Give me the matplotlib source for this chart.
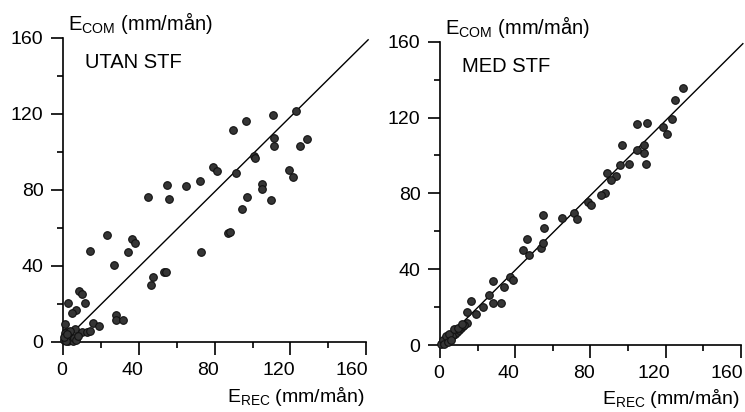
import matplotlib
matplotlib.use("Agg")
import matplotlib.pyplot as plt
from matplotlib.ticker import MultipleLocator
from matplotlib.transforms import ScaledTranslation

plt.rcParams['font.family'] = ['Liberation Sans', 'DejaVu Sans']
plt.rcParams['mathtext.fontset'] = 'custom'
plt.rcParams['mathtext.rm'] = 'Liberation Sans'
plt.rcParams['mathtext.it'] = 'Liberation Sans'

# UTAN STF (left panel): E_REC, E_COM in mm/mån
utan_rec = [123, 110.8, 96.7, 89.5, 111.2, 111.2, 129, 125, 100.6, 101.1,
            91.3, 78.9, 81.2, 119.1, 121.2, 55, 65, 72.2, 104.8, 104.8,
            56, 96.9, 110, 94.3, 44.8, 87, 88, 23.3, 36.3, 38.1,
            14.3, 34.2, 72.6, 27, 47.4, 46.3, 53.4, 54.5, 2.6, 8.5,
            10, 11.5, 7, 4.6, 27.8, 28.2, 31.9, 1.2, 16, 19.2,
            6.3, 9.9, 12.9, 14.3, 0.5, 1, 1.5, 2, 0.8, 2.5,
            3, 4, 5, 6, 7, 8, 1.5, 3.5, 0.3, 2.2]
utan_com = [121.7, 119.6, 116.4, 111.5, 107.3, 102.9, 106.7, 103.2, 97.9, 96.7,
            89.0, 92.1, 90.2, 90.5, 87.0, 82.6, 81.9, 84.9, 83.3, 80.4,
            75.3, 76.1, 74.9, 70.2, 76.5, 57.1, 57.7, 56.1, 54.2, 52.2,
            48, 47.6, 47.5, 40.4, 34.3, 29.9, 36.7, 36.7, 20.7, 26.7,
            25.1, 20.7, 16.7, 15, 14, 11.4, 11.8, 9.7, 10, 8.6,
            7, 5.3, 5.3, 5.8, 1, 3, 5, 2, 4.5, 0.5,
            3.5, 1.5, 0.5, 2, 1, 3, 0.3, 6, 2.5, 4]

# MED STF (right panel)
med_rec = [129, 124.9, 123.1, 118.8, 120.8, 110, 104.7, 108.4, 108.4, 109.6,
           104.7, 97, 100.4, 95.8, 88.7, 93.3, 90.8, 87.6, 85.7, 78.9,
           80.2, 71.3, 72.7, 64.6, 54.5, 55.2, 46.1, 44.3, 47.2, 53.6,
           54.6, 37.4, 38.7, 34.1, 28, 26.3, 28.2, 32.3, 22.9, 16.3,
           14.2, 19.2, 14.2, 1, 2, 3, 4, 5, 6, 7,
           8, 9, 10, 11, 12, 13, 0.5, 2.5, 4.5, 6.5,
           1.5, 3, 5, 7.5, 9.5, 11.5, 2, 4, 6]
med_com = [135.7, 129.2, 119.4, 114.8, 111.1, 117.4, 116.4, 105.5, 101.5, 95.3,
           102.9, 105.7, 95.3, 94.9, 90.9, 89.1, 87, 80, 79.1, 75.6,
           73.8, 69.5, 66.5, 66.8, 68.6, 61.5, 56.1, 50.3, 47.5, 51.0,
           53.6, 35.7, 34.3, 30.8, 33.8, 26.4, 22.3, 22.3, 20.2, 23.2,
           17.6, 16.2, 11.4, 1, 2, 2.5, 4, 3, 5, 5.5,
           6, 7, 8, 9, 10, 10.5, 0.3, 1.5, 3.5, 4.5,
           2.5, 4.5, 6, 8.5, 9, 11, 0.5, 1.5, 2.5]

line_x = [0, 161]
line_y = [0, 159]

x_tick_vals = [0, 40, 80, 120, 160]
x_tick_text = ['0', '40', '80', '120', '160']
# labels in the source drift a little to the left of their ticks (pixels)
x_label_shift = [-1, -6.5, -6.5, -12, -14]

panels = [
    (utan_rec, utan_com, "UTAN STF", [0.0846, 0.170, 0.407, 0.738]),
    (med_rec, med_com, "MED STF", [0.5906, 0.1626, 0.404, 0.736]),
]

fig = plt.figure(figsize=(7.45, 4.12), dpi=100)
px = 72.0 / fig.dpi

for rec, com, title, pos in panels:
    ax = fig.add_axes(pos)
    ax.plot(line_x, line_y, color='black', lw=1.0, clip_on=False)
    ax.scatter(rec, com, s=30, color='#353535', edgecolors='#111111',
               linewidths=0.8, zorder=3, clip_on=False)
    ax.set_xlim(0, 160)
    ax.set_ylim(0, 160)
    ax.xaxis.set_major_locator(MultipleLocator(40))
    ax.xaxis.set_minor_locator(MultipleLocator(20))
    ax.yaxis.set_major_locator(MultipleLocator(40))
    ax.yaxis.set_minor_locator(MultipleLocator(20))
    ax.spines['top'].set_visible(False)
    ax.spines['right'].set_visible(False)
    for s in ('left', 'bottom'):
        ax.spines[s].set_linewidth(1.2)
    ax.tick_params(which='major', direction='out', length=9, width=1.2,
                   labelsize=14, pad=5)
    ax.tick_params(which='minor', direction='out', length=4.5, width=1.2)
    ax.tick_params(axis='x', labelbottom=False)
    for v, t, dx in zip(x_tick_vals, x_tick_text, x_label_shift):
        tr = ax.get_xaxis_transform() + ScaledTranslation(dx * px / 72, -20 * px / 72,
                                                          fig.dpi_scale_trans)
        ax.text(v, 0, t, transform=tr, fontsize=14, ha='center', va='top')
    ax.text(0.015, 1.025, r'E$_{\mathrm{COM}}$ (mm/mån)', transform=ax.transAxes,
            fontsize=14.5, ha='left', va='baseline')
    ax.text(0.073, 0.92, title, transform=ax.transAxes,
            fontsize=14.5, ha='left', va='center')
    ax.text(0.995, -0.196, r'E$_{\mathrm{REC}}$ (mm/mån)', transform=ax.transAxes,
            fontsize=14, ha='right', va='baseline')

fig.savefig("out.png", dpi=100)
